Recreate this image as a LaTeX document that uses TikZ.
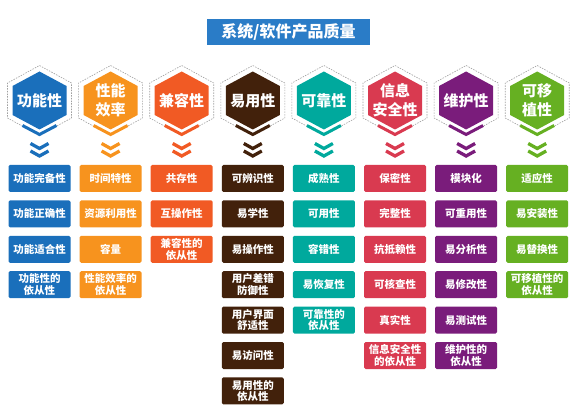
\documentclass[tikz,border=0pt]{standalone}
\usepackage{fontspec}
\newfontfamily\cjk{Noto Sans CJK SC}
\definecolor{ctitle}{HTML}{2A7CC7}
\definecolor{cfun}{HTML}{1A6FBB}
\definecolor{cper}{HTML}{F7931E}
\definecolor{ccom}{HTML}{F15A24}
\definecolor{cuse}{HTML}{42210B}
\definecolor{crel}{HTML}{00A99D}
\definecolor{csec}{HTML}{D93A50}
\definecolor{cmai}{HTML}{7A1C7B}
\definecolor{cpor}{HTML}{66B022}
\tikzset{
  item/.style={text=white, minimum width=62pt, minimum height=27pt, rounded corners=1.5pt,
    inner sep=1pt, align=center, font=\cjk\bfseries\fontsize{10.5}{11.5}\selectfont},
  hexlabel/.style={text=white, align=center, font=\cjk\bfseries\fontsize{15}{19}\selectfont},
  dashedhex/.style={gray!75, dash pattern=on 1.5pt off 1.2pt, line width=0.6pt},
  chev/.style={line width=3.3pt, miter limit=10}
}
\begin{document}
\begin{tikzpicture}[x=1pt,y=-1pt]
\useasboundingbox (0,0) rectangle (584,417);
\node[fill=ctitle, text=white, minimum width=163pt, minimum height=26pt,
  font=\cjk\bfseries\fontsize{16}{18}\selectfont] (title) at (288.5,32) {系统/软件产品质量};

% hexagon heads
\foreach \x/\col/\name/\lbl in {39.5/cfun/fun/功能性, 110.6/cper/per/{性能\\效率},
  181.7/ccom/com/兼容性, 252.8/cuse/use/易用性, 323.9/crel/rel/可靠性,
  395/csec/sec/{信息\\安全性}, 466.1/cmai/mai/维护性, 537.2/cpor/por/{可移\\植性}}{
  \begin{scope}[shift={(\x,100.5)}]
    \draw[dashedhex] (0,-35) -- (32,-17.5) -- (32,17.5) -- (0,35) -- (-32,17.5) -- (-32,-17.5) -- cycle;
    \fill[\col] (0,-29) -- (27,-14.5) -- (27,14.5) -- (0,29) -- (-27,14.5) -- (-27,-14.5) -- cycle;
    \draw[white, line width=6pt] (-17,25) -- (0,34) -- (17,25);
    \draw[\col, line width=3pt] (-17,25) -- (0,34) -- (17,25);
    \draw[\col, chev] (-9,43) -- (0,48) -- (9,43);
    \draw[\col, chev] (-9,50.5) -- (0,55.5) -- (9,50.5);
    \node[hexlabel] (\name) at (0,0) {\lbl};
  \end{scope}
}

% sub-characteristics
\foreach \txt [count=\r] in {功能完备性, 功能正确性, 功能适合性, {功能性的\\依从性}}
  \node[item, fill=cfun] (fun-\r) at (39.5, {178.5+(\r-1)*35.4}) {\txt};
\foreach \txt [count=\r] in {时间特性, 资源利用性, 容量, {性能效率的\\依从性}}
  \node[item, fill=cper] (per-\r) at (110.6, {178.5+(\r-1)*35.4}) {\txt};
\foreach \txt [count=\r] in {共存性, 互操作性, {兼容性的\\依从性}}
  \node[item, fill=ccom] (com-\r) at (181.7, {178.5+(\r-1)*35.4}) {\txt};
\foreach \txt [count=\r] in {可辨识性, 易学性, 易操作性, {用户差错\\防御性}, {用户界面\\舒适性}, 易访问性, {易用性的\\依从性}}
  \node[item, fill=cuse] (use-\r) at (252.8, {178.5+(\r-1)*35.4}) {\txt};
\foreach \txt [count=\r] in {成熟性, 可用性, 容错性, 易恢复性, {可靠性的\\依从性}}
  \node[item, fill=crel] (rel-\r) at (323.9, {178.5+(\r-1)*35.4}) {\txt};
\foreach \txt [count=\r] in {保密性, 完整性, 抗抵赖性, 可核查性, 真实性, {信息安全性\\的依从性}}
  \node[item, fill=csec] (sec-\r) at (395, {178.5+(\r-1)*35.4}) {\txt};
\foreach \txt [count=\r] in {模块化, 可重用性, 易分析性, 易修改性, 易测试性, {维护性的\\依从性}}
  \node[item, fill=cmai] (mai-\r) at (466.1, {178.5+(\r-1)*35.4}) {\txt};
\foreach \txt [count=\r] in {适应性, 易安装性, 易替换性, {可移植性的\\依从性}}
  \node[item, fill=cpor] (por-\r) at (537.2, {178.5+(\r-1)*35.4}) {\txt};
\end{tikzpicture}
\end{document}
